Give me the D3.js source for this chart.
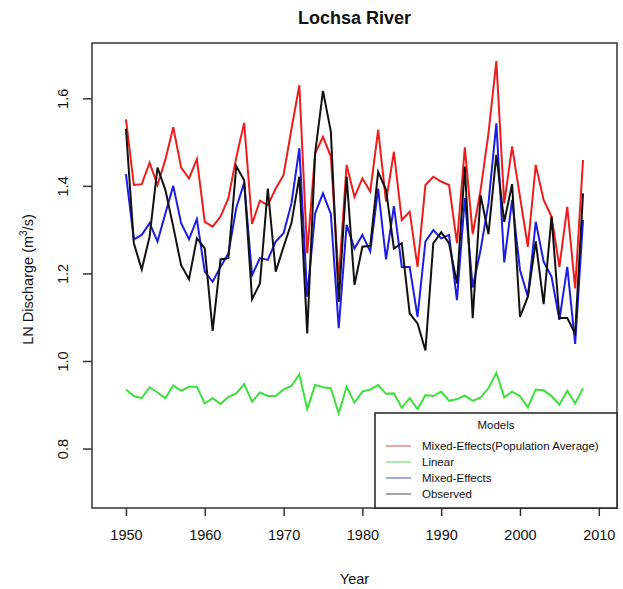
<!DOCTYPE html>
<html>
<head>
<meta charset="utf-8">
<script src="https://cdn.jsdelivr.net/npm/d3@7"></script>
<style>
  html, body { margin: 0; padding: 0; background: #fff; }
  svg { display: block; font-family: "Liberation Sans", Arial, sans-serif; }
</style>
</head>
<body>
<svg id="chart" width="623" height="589"></svg>
<script>
// Annual LN discharge, Lochsa River, 1950–2008
const years = d3.range(1950, 2009);

const popAverage = [
  1.552, 1.402, 1.404, 1.453, 1.402, 1.460, 1.534, 1.442, 1.417, 1.461,
  1.318, 1.307, 1.330, 1.372, 1.465, 1.544, 1.313, 1.366, 1.356, 1.394,
  1.425, 1.530, 1.630, 1.246, 1.474, 1.512, 1.467, 1.185, 1.448, 1.375,
  1.417, 1.387, 1.528, 1.364, 1.478, 1.322, 1.341, 1.215, 1.402, 1.421,
  1.410, 1.402, 1.269, 1.488, 1.290, 1.390, 1.520, 1.685, 1.360, 1.490,
  1.375, 1.261, 1.448, 1.368, 1.330, 1.215, 1.352, 1.166, 1.459
];

const linear = [
  0.935, 0.920, 0.915, 0.940, 0.928, 0.915, 0.944, 0.932, 0.941, 0.941,
  0.903, 0.915, 0.902, 0.918, 0.926, 0.947, 0.907, 0.928, 0.920, 0.920,
  0.935, 0.943, 0.970, 0.890, 0.945, 0.940, 0.938, 0.880, 0.941, 0.905,
  0.930, 0.935, 0.945, 0.925, 0.926, 0.893, 0.915, 0.890, 0.922, 0.920,
  0.930, 0.909, 0.913, 0.921, 0.909, 0.917, 0.938, 0.973, 0.917, 0.930,
  0.920, 0.894, 0.935, 0.933, 0.920, 0.900, 0.932, 0.903, 0.938
];

const mixedEffects = [
  1.427, 1.278, 1.288, 1.315, 1.273, 1.337, 1.400, 1.315, 1.278, 1.324,
  1.204, 1.181, 1.215, 1.246, 1.350, 1.407, 1.196, 1.235, 1.231, 1.273,
  1.292, 1.360, 1.486, 1.147, 1.337, 1.383, 1.336, 1.075, 1.311, 1.257,
  1.288, 1.250, 1.394, 1.232, 1.354, 1.215, 1.215, 1.101, 1.273, 1.299,
  1.280, 1.288, 1.139, 1.372, 1.168, 1.254, 1.360, 1.543, 1.225, 1.368,
  1.208, 1.147, 1.318, 1.227, 1.193, 1.094, 1.215, 1.039, 1.322
];

const observed = [
  1.530, 1.269, 1.209, 1.284, 1.442, 1.391, 1.307, 1.219, 1.187, 1.280,
  1.257, 1.069, 1.232, 1.235, 1.445, 1.413, 1.141, 1.177, 1.394, 1.204,
  1.261, 1.315, 1.421, 1.063, 1.474, 1.617, 1.524, 1.135, 1.421, 1.174,
  1.261, 1.263, 1.432, 1.391, 1.257, 1.269, 1.109, 1.086, 1.024, 1.269,
  1.294, 1.269, 1.177, 1.444, 1.098, 1.379, 1.290, 1.471, 1.318, 1.404,
  1.101, 1.147, 1.273, 1.130, 1.330, 1.098, 1.098, 1.063, 1.383
];

const seriesNames = ["Mixed-Effects(Population Average)", "Linear", "Mixed-Effects", "Observed"];
const seriesColors = ["#ee1d1d", "#3ee03e", "#1c1ce6", "#111111"];
const legendColors = ["#e98a8a", "#8fe28f", "#8a8ad8", "#8a8a8a"];

const xTicks = [1950, 1960, 1970, 1980, 1990, 2000, 2010];
const yTicks = [0.8, 1.0, 1.2, 1.4, 1.6];

const chartTitle = "Lochsa River";
const xTitle = "Year";
const legendTitle = "Models";

// Plot region
const box = { left: 92, right: 617, top: 43, bottom: 508 };

const x = d3.scaleLinear().domain([1945.69, 2012.31]).range([box.left, box.right]);
const y = d3.scaleLinear().domain([0.6642, 1.7264]).range([box.bottom, box.top]);

const svg = d3.select("#chart");
svg.append("rect").attr("width", 623).attr("height", 589).attr("fill", "#fff");

// Series lines, drawn in legend order
const allSeries = [popAverage, linear, mixedEffects, observed];
const line = d3.line().x((d, i) => x(years[i])).y(d => y(d));
allSeries.forEach((values, k) => {
  svg.append("path")
    .datum(values)
    .attr("d", line)
    .attr("fill", "none")
    .attr("stroke", seriesColors[k])
    .attr("stroke-width", 2)
    .attr("stroke-linejoin", "miter");
});

// Frame
svg.append("rect")
  .attr("x", box.left).attr("y", box.top)
  .attr("width", box.right - box.left).attr("height", box.bottom - box.top)
  .attr("fill", "none").attr("stroke", "#333").attr("stroke-width", 1.5);

// Bottom axis
const xAxis = d3.axisBottom(x).tickValues(xTicks).tickFormat(d3.format("d"))
  .tickSize(8).tickPadding(14);
const gx = svg.append("g").attr("transform", `translate(0,${box.bottom})`).call(xAxis);
gx.select(".domain").remove();
gx.selectAll("line").attr("stroke", "#333").attr("stroke-width", 1.5);
gx.selectAll("text").attr("font-size", 14.5).attr("fill", "#111")
  .attr("font-family", "Liberation Sans, Arial, sans-serif");

// Left axis, labels parallel to the axis
const yAxis = d3.axisLeft(y).tickValues(yTicks).tickFormat(d3.format(".1f")).tickSize(9);
const gy = svg.append("g").attr("transform", `translate(${box.left},0)`).call(yAxis);
gy.select(".domain").remove();
gy.selectAll("line").attr("stroke", "#333").attr("stroke-width", 1.5);
gy.selectAll("text")
  .attr("font-size", 14.5).attr("fill", "#111")
  .attr("font-family", "Liberation Sans, Arial, sans-serif")
  .attr("x", null).attr("dy", null)
  .attr("text-anchor", "middle")
  .attr("transform", "translate(-24,0) rotate(-90)");

// Titles
svg.append("text")
  .attr("x", (box.left + box.right) / 2).attr("y", 24)
  .attr("text-anchor", "middle").attr("font-weight", "bold").attr("font-size", 18)
  .attr("fill", "#111").text(chartTitle);

svg.append("text")
  .attr("x", (box.left + box.right) / 2).attr("y", 584)
  .attr("text-anchor", "middle").attr("font-size", 14.5).attr("fill", "#111")
  .text(xTitle);

const yLab = svg.append("text")
  .attr("text-anchor", "middle").attr("font-size", 14.5).attr("fill", "#111")
  .attr("transform", `translate(33,${(box.top + box.bottom) / 2 + 4}) rotate(-90)`);
yLab.append("tspan").text("LN Discharge (m");
yLab.append("tspan").attr("dy", -6).attr("font-size", 10).text("3");
yLab.append("tspan").attr("dy", 6).text("/s)");

// Legend
const leg = { left: 375, top: 413 };
svg.append("rect")
  .attr("x", leg.left).attr("y", leg.top)
  .attr("width", box.right - leg.left).attr("height", box.bottom - leg.top)
  .attr("fill", "#fff").attr("stroke", "#222").attr("stroke-width", 1.5);

svg.append("text")
  .attr("x", (leg.left + box.right) / 2).attr("y", leg.top + 16)
  .attr("text-anchor", "middle").attr("font-size", 11.5).attr("fill", "#111")
  .text(legendTitle);

const rowY = d3.scalePoint().domain(seriesNames).range([leg.top + 33, leg.top + 81]);
seriesNames.forEach((name, k) => {
  const yy = rowY(name);
  svg.append("line")
    .attr("x1", leg.left + 11).attr("x2", leg.left + 36)
    .attr("y1", yy).attr("y2", yy)
    .attr("stroke", legendColors[k]).attr("stroke-width", 1.5);
  svg.append("text")
    .attr("x", leg.left + 47).attr("y", yy + 4)
    .attr("font-size", 11.5).attr("fill", "#111")
    .text(name);
});
</script>
</body>
</html>
